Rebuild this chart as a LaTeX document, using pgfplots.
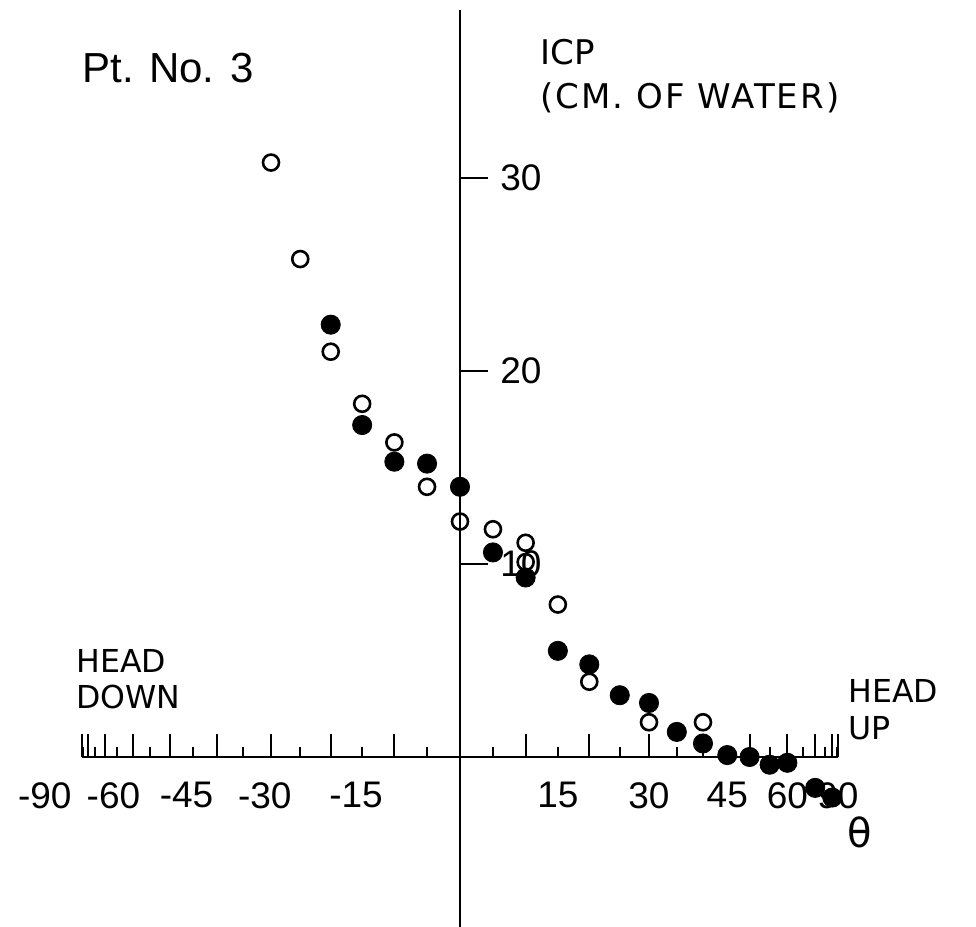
\documentclass[border=0pt]{standalone}
\usepackage{pgfplots}
\pgfplotsset{compat=1.18}
\usepackage{fontspec}
\setmainfont{DejaVu Sans}
\newfontfamily\lib{Liberation Sans}
\newcommand{\tickfont}{\lib\fontsize{18.5pt}{20pt}\selectfont}

\pgfplotstableread{
ang icp
-30 30.8
-25 25.8
-20 21.0
-15 18.3
-10 16.3
-5 14.0
0 12.2
5 11.8
10 11.1
10 10.1
15 7.9
20 3.9
30 1.8
40 1.8
}\opendata

\pgfplotstableread{
ang icp
-20 22.4
-15 17.2
-10 15.3
-5 15.2
0 14.0
5 10.6
10 9.3
15 5.5
20 4.8
25 3.2
30 2.8
35 1.3
40 0.7
45 0.1
50 0.0
55 -0.4
60 -0.3
70 -1.6
80 -2.1
}\filleddata

\begin{document}
\begin{tikzpicture}
\useasboundingbox (0,0) rectangle (488pt,463.5pt);
\begin{axis}[
  at={(41pt,0pt)}, anchor=south west,
  scale only axis, width=378pt, height=458.5pt,
  clip=false,
  x coord trafo/.code={\pgfmathparse{sin(#1)}},
  x coord inv trafo/.code={\pgfmathparse{asin(#1)}},
  xmin=-90, xmax=90, ymin=-8.808, ymax=38.705,
  axis lines=middle,
  axis line style={-, line width=1pt, black},
  every tick/.style={line width=1pt, black},
  tick align=inside,
  xtick={-90,-80,-70,-60,-50,-40,-30,-20,-10,10,20,30,40,50,60,70,80,90},
  xticklabels={{},{},{},{},{},{},{},{},{},{},{},{},{},{},{},{},{},{}},
  major tick length=11.5pt,
  minor tick length=5pt,
  minor xtick={-85,-75,-65,-55,-45,-35,-25,-15,-5,5,15,25,35,45,55,65,75,85},
  extra x ticks={-90,-60,-45,-30,-15,15,30,45,60,90},
  extra x tick labels={\llap{-}90\kern31pt,\llap{-}60\kern13pt,\llap{-}45,\llap{-}30,\llap{-}15,15,30,45,60,90},
  extra x tick style={major tick length=0pt, xticklabel style={anchor=north, inner sep=0pt, yshift=-12.5pt, font=\tickfont}},
  ytick=\empty,
  minor ytick={-5,5,15,25,35},
  extra y ticks={10,20,30},
  extra y tick labels={10,20,30},
  extra y tick style={major tick length=14pt, yticklabel style={anchor=west, inner sep=0pt, xshift=20pt, font=\tickfont}},
]
\addplot[only marks, mark=o, mark size=4.0pt, mark options={line width=1.3pt, draw=black, fill=white}] table[x=ang, y=icp] {\opendata};
\addplot[only marks, mark=*, mark size=4.8pt, mark options={line width=0.4pt, draw=black, fill=black}] table[x=ang, y=icp] {\filleddata};
\end{axis}
\begin{scope}[x=0.5pt, y=-0.5pt, shift={(0pt,463.5pt)}]
\node[anchor=base west, inner sep=0pt, font=\lib\fontsize{21pt}{24pt}\selectfont] at (82,83) {Pt. No. 3};
\node[anchor=base west, inner sep=0pt, font=\fontsize{17pt}{20pt}\selectfont] at (540,65) {ICP};
\node[anchor=base west, inner sep=0pt, font=\fontsize{17pt}{20pt}\selectfont\addfontfeature{LetterSpace=6}] at (540,109) {(CM. OF WATER)};
\node[anchor=base west, inner sep=0pt, font=\fontsize{15.8pt}{18pt}\selectfont] at (76,673) {HEAD};
\node[anchor=base west, inner sep=0pt, font=\fontsize{15.8pt}{18pt}\selectfont] at (76,709) {DOWN};
\node[anchor=base west, inner sep=0pt, font=\fontsize{15.8pt}{18pt}\selectfont] at (848,703) {HEAD};
\node[anchor=base west, inner sep=0pt, font=\fontsize{15.8pt}{18pt}\selectfont] at (848,740) {UP};
\node[inner sep=0pt, font=\fontsize{20pt}{22pt}\selectfont] at (860,832) {θ};
\end{scope}
\end{tikzpicture}
\end{document}
